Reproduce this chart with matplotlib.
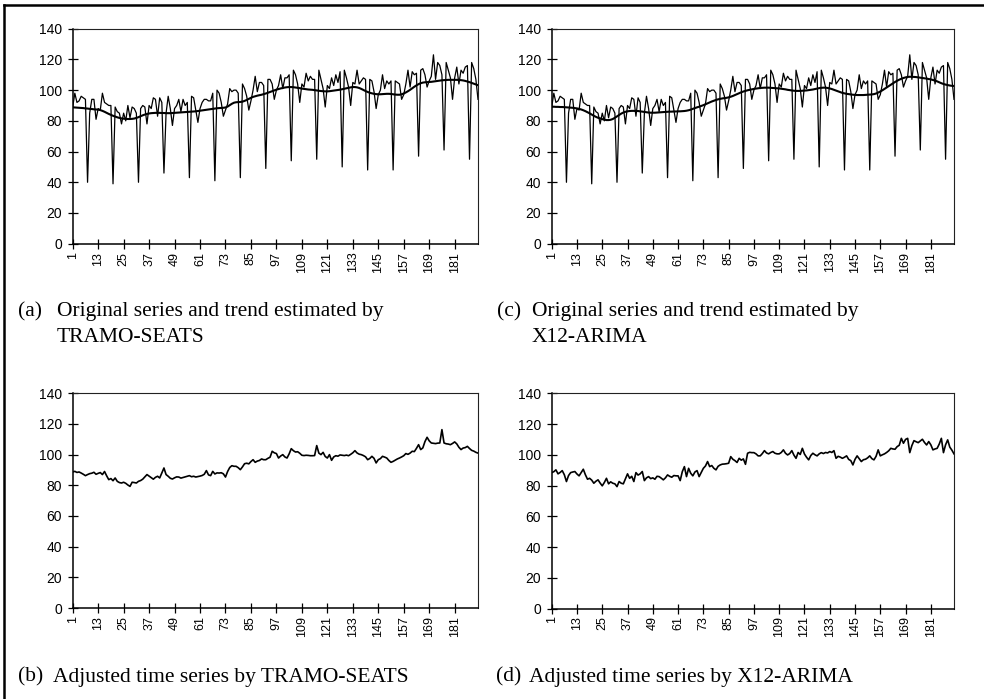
import matplotlib
matplotlib.use('Agg')
import matplotlib.pyplot as plt
from matplotlib.lines import Line2D

# monthly index 1..192
months = list(range(1, 193))
tick_pos = list(range(1, 182, 12))
y_ticks = [0, 20, 40, 60, 80, 100, 120, 140]

original = [
    89, 98, 92, 93, 96, 95, 94, 40, 85, 94, 94, 81,
    88, 87, 98, 92, 91, 90, 90, 39, 89, 86, 85, 78,
    85, 80, 90, 82, 89, 88, 85, 40, 88, 90, 89, 78,
    90, 88, 95, 94, 83, 95, 92, 46, 85, 96, 88, 77,
    88, 90, 94, 86, 94, 90, 92, 43, 96, 95, 87, 79,
    88, 92, 94, 94, 93, 93, 98, 41, 100, 98, 92, 83,
    87, 91, 101, 99, 100, 100, 98, 43, 104, 101, 96, 87,
    93, 100, 109, 99, 105, 105, 103, 49, 107, 107, 104, 94,
    100, 103, 110, 101, 108, 108, 110, 54, 113, 110, 104, 92,
    104, 102, 111, 106, 109, 107, 107, 55, 113, 107, 101, 89,
    103, 101, 108, 103, 110, 105, 112, 50, 113, 108, 102, 90,
    105, 104, 113, 104, 106, 108, 107, 48, 107, 106, 99, 88,
    97, 100, 110, 101, 106, 104, 106, 48, 106, 105, 104, 94,
    97, 104, 113, 102, 112, 110, 111, 57, 113, 114, 110, 102,
    106, 109, 123, 107, 118, 116, 110, 61, 118, 113, 108, 94,
    108, 115, 104, 113, 111, 115, 116, 55, 118, 114, 107, 94,
]

trend_ts = [
    88.8, 88.7, 88.6, 88.5, 88.4, 88.3, 88.1, 88.0, 87.8, 87.7, 87.5, 87.4,
    87.3, 87.0, 86.5, 85.9, 85.2, 84.5, 83.9, 83.3, 82.8, 82.3, 81.9, 81.6,
    81.4, 81.3, 81.2, 81.2, 81.3, 81.5, 81.9, 82.4, 83.0, 83.6, 84.1, 84.5,
    84.8, 85.0, 85.1, 85.2, 85.2, 85.2, 85.1, 85.1, 85.0, 85.0, 85.0, 85.1,
    85.2, 85.3, 85.4, 85.5, 85.6, 85.7, 85.8, 85.9, 86.0, 86.1, 86.2, 86.4,
    86.6, 86.8, 87.0, 87.2, 87.4, 87.6, 87.8, 88.0, 88.2, 88.3, 88.4, 88.5,
    88.7, 89.3, 90.2, 91.1, 91.8, 92.1, 92.2, 92.3, 92.5, 93.0, 93.6, 94.3,
    95.0, 95.6, 96.0, 96.4, 96.7, 97.0, 97.4, 97.8, 98.3, 98.8, 99.3, 99.8,
    100.3, 100.7, 101.1, 101.4, 101.7, 101.9, 102.0, 102.0, 101.9, 101.7, 101.5, 101.3,
    101.0, 100.8, 100.6, 100.4, 100.3, 100.2, 100.0, 99.8, 99.6, 99.4, 99.3, 99.2,
    99.2, 99.3, 99.5, 99.7, 99.9, 100.1, 100.3, 100.6, 100.9, 101.2, 101.5, 101.8,
    102.0, 102.0, 101.8, 101.4, 100.8, 100.1, 99.4, 98.8, 98.3, 97.9, 97.6, 97.4,
    97.3, 97.3, 97.4, 97.5, 97.6, 97.6, 97.5, 97.3, 97.1, 97.0, 97.0, 97.3,
    97.8, 98.5, 99.3, 100.2, 101.2, 102.2, 103.1, 103.9, 104.5, 104.9, 105.1, 105.2,
    105.3, 105.4, 105.6, 105.8, 106.0, 106.2, 106.4, 106.5, 106.6, 106.7, 106.7, 106.7,
    106.7, 106.7, 106.6, 106.5, 106.3, 106.0, 105.6, 105.2, 104.7, 104.2, 103.7, 103.2,
]

trend_x12 = [
    89.2, 89.2, 89.1, 89.1, 89.0, 89.0, 88.9, 88.8, 88.7, 88.6, 88.5, 88.3,
    88.1, 87.8, 87.4, 86.9, 86.3, 85.6, 84.9, 84.1, 83.3, 82.6, 82.0, 81.6,
    81.1, 80.8, 80.5, 80.5, 80.7, 81.2, 82.0, 82.9, 83.8, 84.7, 85.4, 85.9,
    86.2, 86.4, 86.5, 86.5, 86.4, 86.4, 86.2, 86.0, 85.8, 85.6, 85.4, 85.3,
    85.3, 85.3, 85.4, 85.5, 85.6, 85.7, 85.8, 85.9, 86.0, 86.0, 86.1, 86.1,
    86.2, 86.2, 86.3, 86.4, 86.6, 86.9, 87.3, 87.8, 88.3, 88.8, 89.2, 89.7,
    90.2, 90.8, 91.4, 92.0, 92.6, 93.1, 93.6, 94.0, 94.3, 94.6, 94.8, 95.0,
    95.3, 95.7, 96.2, 96.8, 97.4, 98.0, 98.6, 99.1, 99.5, 99.9, 100.2, 100.5,
    100.8, 101.0, 101.2, 101.4, 101.5, 101.6, 101.6, 101.6, 101.5, 101.4, 101.3, 101.2,
    101.1, 100.9, 100.7, 100.5, 100.2, 100.0, 99.8, 99.6, 99.5, 99.5, 99.5, 99.6,
    99.7, 99.8, 100.0, 100.2, 100.4, 100.7, 101.0, 101.3, 101.5, 101.6, 101.6, 101.4,
    101.1, 100.7, 100.2, 99.7, 99.2, 98.7, 98.2, 97.9, 97.6, 97.4, 97.2, 97.0,
    96.9, 96.8, 96.8, 96.8, 96.8, 96.9, 97.0, 97.1, 97.2, 97.4, 97.8, 98.4,
    99.1, 99.9, 100.8, 101.7, 102.6, 103.5, 104.4, 105.3, 106.1, 106.8, 107.4, 107.9,
    108.3, 108.6, 108.7, 108.7, 108.6, 108.5, 108.3, 108.1, 107.9, 107.7, 107.5, 107.2,
    107.0, 106.6, 106.2, 105.7, 105.1, 104.5, 104.0, 103.6, 103.3, 103.0, 102.8, 102.7,
]

adjusted_ts = [
    88.7, 89.1, 88.4, 88.7, 88.0, 87.2, 86.3, 87.0, 87.6, 87.9, 88.5, 87.2,
    87.8, 88.3, 87.0, 89.0, 86.2, 83.7, 84.4, 83.0, 84.8, 82.6, 81.8, 81.5,
    82.0, 81.3, 80.2, 79.3, 82.0, 81.8, 81.5, 82.6, 83.1, 84.0, 85.5, 87.0,
    86.0, 85.0, 84.0, 85.2, 85.9, 84.8, 88.0, 91.3, 87.0, 85.9, 84.6, 84.1,
    84.9, 85.5, 85.4, 84.7, 85.1, 85.5, 85.9, 86.3, 85.6, 85.9, 85.4, 85.7,
    86.0, 86.4, 87.2, 89.6, 86.8, 86.3, 89.1, 87.4, 88.1, 88.0, 88.2, 87.5,
    85.4, 89.0, 91.6, 92.8, 92.4, 92.4, 91.5, 90.2, 92.0, 94.1, 94.4, 94.0,
    95.5, 96.7, 95.0, 95.8, 96.2, 97.2, 96.7, 96.7, 97.6, 98.3, 102.2, 101.2,
    100.7, 97.8, 99.1, 100.0, 98.5, 97.8, 100.5, 103.9, 102.6, 101.7, 101.9, 100.9,
    99.6, 99.4, 99.6, 99.5, 99.3, 99.3, 99.4, 105.9, 101.0, 100.0, 101.5, 98.8,
    97.8, 100.0, 96.3, 98.5, 99.3, 99.0, 99.8, 99.6, 99.4, 99.7, 99.3, 100.2,
    101.2, 102.6, 101.1, 100.3, 100.0, 99.4, 98.6, 96.7, 97.5, 98.9, 97.6, 94.6,
    96.7, 97.4, 98.9, 98.4, 97.8, 96.2, 95.0, 95.6, 96.4, 97.2, 97.8, 98.5,
    99.3, 100.7, 100.2, 101.0, 102.2, 102.0, 104.1, 106.5, 103.3, 104.4, 108.5, 111.3,
    109.0, 107.6, 107.4, 107.2, 107.5, 107.6, 116.3, 107.6, 107.1, 106.9, 106.5, 107.3,
    108.3, 107.0, 104.8, 103.3, 104.3, 104.6, 105.4, 104.0, 102.8, 102.3, 101.5, 101.0,
]

adjusted_x12 = [
    88.4, 89.0, 90.2, 87.6, 88.5, 89.7, 87.0, 82.6, 86.5, 88.4, 88.8, 89.1,
    87.5, 86.3, 88.4, 90.6, 87.0, 84.1, 84.7, 83.5, 81.5, 82.8, 83.7, 81.6,
    79.8, 82.0, 84.7, 81.1, 82.4, 81.5, 81.1, 79.3, 82.6, 81.5, 81.1, 84.3,
    87.6, 84.7, 86.0, 82.6, 88.4, 86.8, 87.6, 89.1, 83.2, 85.0, 85.8, 84.5,
    85.0, 84.1, 86.0, 85.8, 84.8, 83.7, 85.0, 86.9, 86.0, 85.4, 86.5, 86.3,
    86.3, 83.2, 89.0, 92.3, 85.8, 91.2, 88.0, 86.3, 88.8, 89.7, 85.8, 88.5,
    91.2, 92.7, 95.6, 92.3, 93.0, 91.2, 90.2, 92.5, 93.4, 93.9, 94.0, 94.2,
    94.5, 98.8, 97.1, 96.2, 95.0, 97.7, 96.5, 97.3, 93.8, 101.0, 101.6, 101.4,
    101.4, 100.6, 99.3, 99.3, 100.8, 102.7, 101.2, 100.6, 101.5, 102.1, 101.0, 100.6,
    100.6, 101.5, 103.2, 101.0, 99.9, 100.8, 102.7, 99.8, 97.7, 101.5, 100.2, 104.2,
    100.5, 98.4, 96.7, 99.5, 101.0, 100.0, 99.3, 100.6, 101.4, 100.8, 101.5, 101.2,
    102.1, 101.5, 102.7, 97.7, 99.0, 98.5, 97.7, 98.4, 99.3, 97.0, 96.2, 93.4,
    97.0, 99.3, 97.5, 95.6, 96.8, 97.1, 98.0, 99.3, 97.5, 96.7, 99.0, 103.2,
    99.3, 100.0, 100.6, 101.5, 102.6, 104.2, 103.8, 103.6, 105.3, 106.2, 110.7, 107.5,
    110.0, 110.7, 101.4, 106.0, 109.2, 108.5, 107.9, 109.0, 110.1, 108.0, 106.4, 108.6,
    106.5, 103.2, 103.8, 104.2, 107.0, 110.7, 101.4, 106.5, 109.7, 105.0, 103.0, 100.6,
]

W, H = 984, 699


def px_axes(fig, left, top, right, bottom):
    return fig.add_axes([left / W, 1 - bottom / H, (right - left) / W, (bottom - top) / H])


def style_axes(ax):
    ax.set_xlim(1, 192)
    ax.set_ylim(0, 140)
    ax.set_yticks(y_ticks)
    ax.set_xticks(tick_pos)
    ax.set_xticklabels([str(t) for t in tick_pos], rotation=90)
    ax.tick_params(axis='y', direction='inout', length=7.5, width=0.9, pad=4,
                   labelsize=10, right=False)
    ax.tick_params(axis='x', direction='inout', length=7.5, width=0.9, pad=2,
                   labelsize=9, top=False)
    for lab in ax.get_xticklabels() + ax.get_yticklabels():
        lab.set_fontfamily('Liberation Sans')
    for side in ['left', 'bottom']:
        ax.spines[side].set_linewidth(1.1)
    for side in ['top', 'right']:
        ax.spines[side].set_linewidth(0.8)
        ax.spines[side].set_color('#222222')


def caption(fig, x_lab, x_txt, y_base, label, lines):
    fig.text(x_lab / W, 1 - y_base / H, label, fontsize=15.5, family='Liberation Serif', va='baseline')
    for k, line in enumerate(lines):
        y = y_base + k * 25.7
        fig.text(x_txt / W, 1 - y / H, line, fontsize=15.5, family='Liberation Serif', va='baseline')


fig = plt.figure(figsize=(W / 100, H / 100), dpi=100)

ax_a = px_axes(fig, 72.7, 28.7, 478, 243.7)
ax_a.plot(months, original, color='black', linewidth=0.9)
ax_a.plot(months, trend_ts, color='black', linewidth=1.5)
style_axes(ax_a)

ax_c = px_axes(fig, 551.7, 28.7, 954, 243.7)
ax_c.plot(months, original, color='black', linewidth=0.9)
ax_c.plot(months, trend_x12, color='black', linewidth=1.5)
style_axes(ax_c)

ax_b = px_axes(fig, 72.7, 393.3, 478, 608)
ax_b.plot(months, adjusted_ts, color='black', linewidth=1.2)
style_axes(ax_b)

ax_d = px_axes(fig, 551.7, 393.3, 954, 608.5)
ax_d.plot(months, adjusted_x12, color='black', linewidth=1.2)
style_axes(ax_d)

# captions: baseline of first line in pixels
caption(fig, 18, 57, 316, '(a)', ['Original series and trend estimated by', 'TRAMO-SEATS'])
caption(fig, 497, 532, 316, '(c)', ['Original series and trend estimated by', 'X12-ARIMA'])
caption(fig, 18, 53, 681.7, '(b)', ['Adjusted time series by TRAMO-SEATS'])
caption(fig, 496, 529, 681.7, '(d)', ['Adjusted time series by X12-ARIMA'])

# outer frame of the scanned figure (left and top edges)
fig.add_artist(Line2D([4 / W, 4 / W], [0, 1 - 5 / H], color='black', linewidth=1.8))
fig.add_artist(Line2D([4 / W, 1], [1 - 5 / H, 1 - 5 / H], color='black', linewidth=1.8))

fig.savefig('out.png', dpi=100)
